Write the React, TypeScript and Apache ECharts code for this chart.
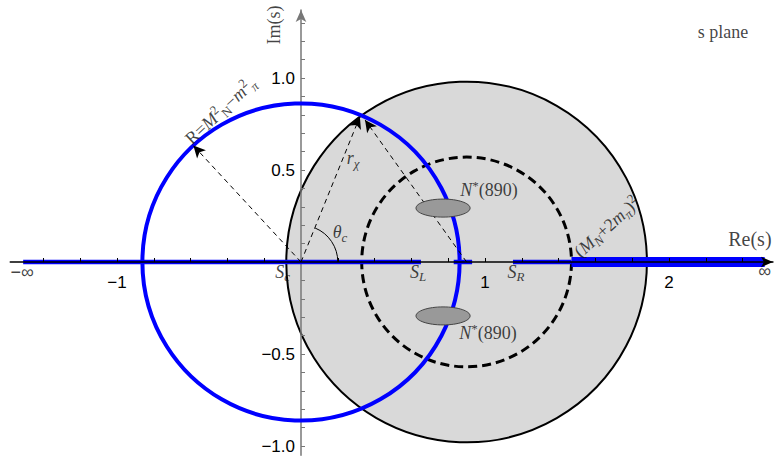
import React, { useEffect, useRef } from 'react';
import * as echarts from 'echarts';

const SERIF = '"Liberation Serif", "Times New Roman", serif';
const SANS = '"Liberation Sans", Arial, sans-serif';

// ---- data (s-plane geometry, units of GeV^2) ----
const grayCircle = [0.9, 0, 0.98]; // cx, cy, r
const dashedCircle = [0.9, 0, 0.57];
const blueCircle = [0, 0, 0.862];
const resonances = [
  [0.772, 0.293, 0.147, 0.049],
  [0.772, -0.293, 0.147, 0.049],
];
const cutLeft = [[-1.51, 0], [0.652, 0]];
const cutMid = [[0.83, 0], [0.93, 0]];
const cutRight = [[1.152, 0], [1.47, 0]];
const cutRightThick = [[1.47, 0], [2.52, 0]];
const arrowFrom = [[0, 0], [0, 0], [0.9, 0]];
const arrowTo = [[-0.585, 0.633], [0.32, 0.79], [0.348, 0.772]];
const angleArc = [0, 0, 0.2, 67.5]; // cx, cy, r, degrees

const xTicks = [-1.4, -1.2, -1, -0.8, -0.6, -0.4, -0.2, 0.2, 0.4, 0.6, 0.8, 1, 1.2, 1.4, 1.6, 1.8, 2, 2.2, 2.4];
const yTicks = [-1, -0.9, -0.8, -0.7, -0.6, -0.5, -0.4, -0.3, -0.2, -0.1, 0.1, 0.2, 0.3, 0.4, 0.5, 0.6, 0.7, 0.8, 0.9, 1, 1.1, 1.2, 1.3];
const xLabels = [-1, 1, 2];
const yLabels = [-1, -0.5, 0.5, 1];

const annoText = [
  '{s|−∞}',
  '{s|∞}',
  '{it|S}{sub|c}',
  '{it|S}{sub|L}',
  '{it|S}{sub|R}',
  '{n|Im(s)}',
  '{big|Re(s)}',
  '{n|s plane}',
  '{it|N}{sup|*}{n|(890)}',
  '{it|N}{sup|*}{n|(890)}',
  '{it|θ}{sub|c}',
  '{it|r}{sub|χ}',
  '{n|R=}{it|M}{sup|2}{subn|N}{n|−}{it|m}{sup|2}{sub|π}',
  '{n|(}{it|M}{sub|N}{n|+2}{it|m}{sub|π}{n|)}{sup|2}',
];
const annoPos = [
  [-1.516, -0.054],
  [2.52, -0.05],
  [-0.1, -0.054],
  [0.636, -0.054],
  [1.168, -0.054],
  [-0.147, 1.288],
  [2.322, 0.125],
  [2.293, 1.25],
  [1.022, 0.391],
  [1.016, -0.386],
  [0.212, 0.163],
  [0.283, 0.565],
  [-0.437, 0.822],
  [1.662, 0.19],
];
const annoRotate = [0, 0, 0, 0, 0, 90, 0, 0, 0, 0, 0, 0, 43, 42];
const annoAlign = ['center', 'center', 'center', 'center', 'center', 'center', 'left', 'center', 'center', 'center', 'center', 'center', 'center', 'center'];

const rich: any = {
  n: { fontFamily: SERIF, fontSize: 18, color: '#111' },
  big: { fontFamily: SERIF, fontSize: 20, color: '#111' },
  s: { fontFamily: SANS, fontSize: 18, color: '#111' },
  it: { fontFamily: SERIF, fontSize: 18, fontStyle: 'italic', color: '#111' },
  sub: { fontFamily: SERIF, fontSize: 13, fontStyle: 'italic', color: '#111', padding: [10, 0, 0, 0] },
  subn: { fontFamily: SERIF, fontSize: 13, color: '#111', padding: [10, 0, 0, 0] },
  sup: { fontFamily: SERIF, fontSize: 13, color: '#111', padding: [0, 0, 10, 0] },
};

const circleSeries = (d: number[], style: any, z: number) => ({
  type: 'custom',
  coordinateSystem: 'cartesian2d',
  silent: true,
  z,
  clip: false,
  data: [d],
  renderItem: (params: any, api: any) => {
    const c = api.coord([api.value(0), api.value(1)]);
    const r = api.size([api.value(2), 0])[0];
    return { type: 'circle', shape: { cx: c[0], cy: c[1], r }, style };
  },
});

const segSeries = (d: number[][], width: number) => ({
  type: 'line',
  data: d,
  symbol: 'none',
  silent: true,
  z: 3,
  lineStyle: { color: '#0000ff', width, cap: 'butt' },
});

const GRID_L = 10.28;
const GRID_R = 2.04;
const GRID_T = 9.92;
const GRID_B = 4.8;
const X_MIN = -1.58;
const X_MAX = 2.565;
const Y_MIN = -1.05;
const Y_MAX = 1.37;
const W = 775;
const H = 460;

export default function App() {
  const ref = useRef<HTMLDivElement>(null);
  useEffect(() => {
    const chart = echarts.init(ref.current!, null, { renderer: 'svg' });
    const pxPerX = (W - GRID_L - GRID_R) / (X_MAX - X_MIN);
    const pxPerY = (H - GRID_T - GRID_B) / (Y_MAX - Y_MIN);
    const yAxisOffset = -(0 - X_MIN) * pxPerX; // move y axis to x = 0
    const xAxisOffset = -(0 - Y_MIN) * pxPerY; // move x axis to y = 0
    const option: any = {
      animation: false,
      grid: {
        left: GRID_L,
        right: GRID_R,
        top: GRID_T,
        bottom: GRID_B,
        outerBoundsMode: 'none',
      },
      xAxis: {
        type: 'value',
        min: X_MIN,
        max: X_MAX,
        z: 8,
        offset: xAxisOffset,
        splitLine: { show: false },
        axisLine: {
          onZero: false,
          symbol: ['none', 'arrow'],
          symbolSize: [8, 12],
          lineStyle: { color: '#000', width: 1.5 },
        },
        axisTick: { inside: true, length: 4, customValues: xTicks, lineStyle: { color: '#000', width: 1 } },
        axisLabel: {
          customValues: xLabels,
          margin: 12,
          fontFamily: SANS,
          fontSize: 17,
          color: '#000',
          formatter: (v: number) => (v < 0 ? '−' + Math.abs(v) : String(v)),
        },
      },
      yAxis: {
        type: 'value',
        min: Y_MIN,
        max: Y_MAX,
        z: 3,
        offset: yAxisOffset,
        splitLine: { show: false },
        axisLine: {
          onZero: false,
          symbol: ['none', 'arrow'],
          symbolSize: [8, 12],
          lineStyle: { color: '#777', width: 1.5 },
        },
        axisTick: { inside: true, length: 4, customValues: yTicks, lineStyle: { color: '#777', width: 1 } },
        axisLabel: {
          customValues: yLabels,
          margin: 6,
          fontFamily: SANS,
          fontSize: 17,
          color: '#000',
          formatter: (v: number) => (v < 0 ? '−' + Math.abs(v).toFixed(1) : v.toFixed(1)),
        },
      },
      series: [
        circleSeries(grayCircle, { fill: '#d9d9d9', stroke: '#000', lineWidth: 2 }, 1),
        circleSeries(dashedCircle, { fill: 'none', stroke: '#000', lineWidth: 3, lineDash: [9, 5] }, 2),
        segSeries(cutLeft, 4.5),
        segSeries(cutMid, 4.5),
        segSeries(cutRight, 4.5),
        segSeries(cutRightThick, 10),
        circleSeries(blueCircle, { fill: 'none', stroke: '#0000ff', lineWidth: 4 }, 4),
        {
          type: 'line',
          data: [],
          z: 5,
          silent: true,
          markLine: {
            silent: true,
            symbol: ['none', 'arrow'],
            symbolSize: [9, 12],
            label: { show: false },
            emphasis: { disabled: true },
            lineStyle: { color: '#000', width: 1, type: [5, 4] },
            data: arrowFrom.map((f, i) => [{ coord: f }, { coord: arrowTo[i] }]),
          },
        },
        {
          type: 'custom',
          coordinateSystem: 'cartesian2d',
          silent: true,
          z: 5,
          data: [angleArc],
          renderItem: (params: any, api: any) => {
            const c = api.coord([api.value(0), api.value(1)]);
            const r = api.size([api.value(2), 0])[0];
            const a = (api.value(3) * Math.PI) / 180;
            return {
              type: 'arc',
              shape: { cx: c[0], cy: c[1], r, startAngle: -a, endAngle: 0, clockwise: true },
              style: { stroke: '#000', fill: 'none', lineWidth: 1 },
            };
          },
        },
        {
          type: 'custom',
          coordinateSystem: 'cartesian2d',
          silent: true,
          z: 6,
          data: resonances,
          renderItem: (params: any, api: any) => {
            const c = api.coord([api.value(0), api.value(1)]);
            const s = api.size([api.value(2), api.value(3)]);
            return {
              type: 'ellipse',
              shape: { cx: c[0], cy: c[1], rx: s[0], ry: s[1] },
              style: { fill: '#999999', stroke: '#444', lineWidth: 1 },
            };
          },
        },
        {
          type: 'scatter',
          z: 9,
          silent: true,
          symbolSize: 1,
          itemStyle: { color: 'rgba(0,0,0,0)' },
          data: annoPos.map((p, i) => ({
            value: p,
            label: {
              show: true,
              position: 'inside',
              align: annoAlign[i],
              verticalAlign: 'middle',
              rotate: annoRotate[i],
              formatter: annoText[i],
              rich,
            },
          })),
        },
      ],
    };
    chart.setOption(option);
    return () => chart.dispose();
  }, []);
  return <div ref={ref} style={{ position: 'absolute', left: 0, top: 0, width: W, height: H }} />;
}
